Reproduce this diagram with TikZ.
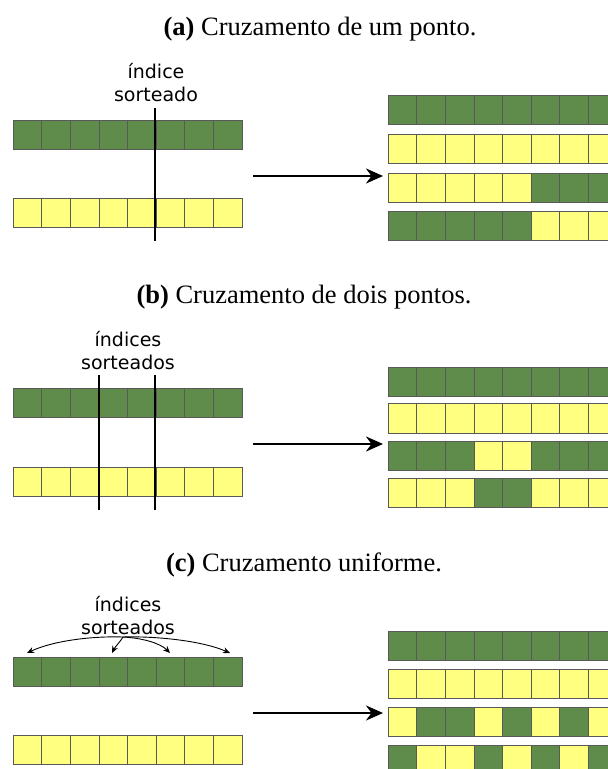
\documentclass[tikz,border=0pt]{standalone}
\usepackage{fontspec}
\setmainfont{Liberation Serif}
\newfontfamily\labfont{DejaVu Sans}
\usetikzlibrary{arrows.meta}
\definecolor{G}{HTML}{5F8C4B}
\definecolor{Y}{HTML}{FFFF80}
\newcommand{\chromrow}[3]{%
  \foreach \cc [count=\ii from 0] in {#3}
    {\filldraw[fill=\cc, draw=black!65, line width=0.6pt] ({#1+\ii*28.6},#2) rectangle ++(28.6,29.5);}
}
\tikzset{
  title/.style={font=\fontsize{26.5}{30}\selectfont, inner sep=0pt},
  lab/.style={font=\labfont\fontsize{19}{23}\selectfont, align=center, inner sep=0pt},
  cutline/.style={line width=2pt, black},
  bigarrow/.style={line width=2.5pt, -{Stealth[length=17pt,width=15pt]}},
  smallarrow/.style={line width=0.9pt, -{Stealth[length=7pt,width=6pt]}}
}
\begin{document}
\begin{tikzpicture}[x=1pt,y=-1pt]
\useasboundingbox (0,0) rectangle (608,769);
\clip (0,0) rectangle (608,769);
\fill[white] (0,0) rectangle (608,769);

% ---------- (a) ----------
\node[title] (ta) at (320,29) {\textbf{(a)} Cruzamento de um ponto.};
\node[lab] (la) at (156,83) {índice\\sorteado};
\chromrow{13}{120}{G,G,G,G,G,G,G,G}
\chromrow{13}{198}{Y,Y,Y,Y,Y,Y,Y,Y}
\coordinate (ca1) at (155,108);
\coordinate (ca2) at (155,241);
\draw[cutline] (ca1) -- (ca2);
\coordinate (aa1) at (253,176);
\coordinate (aa2) at (383,176);
\draw[bigarrow] (aa1) -- (aa2);
\chromrow{388}{95}{G,G,G,G,G,G,G,G}
\chromrow{388}{134}{Y,Y,Y,Y,Y,Y,Y,Y}
\chromrow{388}{173}{Y,Y,Y,Y,Y,G,G,G}
\chromrow{388}{211}{G,G,G,G,G,Y,Y,Y}

% ---------- (b) ----------
\node[title] (tb) at (304,297) {\textbf{(b)} Cruzamento de dois pontos.};
\node[lab] (lb) at (128,351) {índices\\sorteados};
\chromrow{13}{388}{G,G,G,G,G,G,G,G}
\chromrow{13}{467}{Y,Y,Y,Y,Y,Y,Y,Y}
\coordinate (cb1) at (99,375);
\coordinate (cb2) at (99,510);
\coordinate (cb3) at (155,375);
\coordinate (cb4) at (155,510);
\draw[cutline] (cb1) -- (cb2);
\draw[cutline] (cb3) -- (cb4);
\coordinate (ab1) at (253,444);
\coordinate (ab2) at (383,444);
\draw[bigarrow] (ab1) -- (ab2);
\chromrow{388}{367}{G,G,G,G,G,G,G,G}
\chromrow{388}{403.5}{Y,Y,Y,Y,Y,Y,Y,Y}
\chromrow{388}{441}{G,G,G,Y,Y,G,G,G}
\chromrow{388}{478}{Y,Y,Y,G,G,Y,Y,Y}

% ---------- (c) ----------
\node[title] (tc) at (304,565) {\textbf{(c)} Cruzamento uniforme.};
\node[lab] (lc) at (128,616) {índices\\sorteados};
\coordinate (o) at (123,637);
\coordinate (p1) at (27,653);
\coordinate (p2) at (112,653);
\coordinate (p3) at (170,653);
\coordinate (p4) at (230,653);
\draw[smallarrow] (o) .. controls (95,636) and (55,640) .. (p1);
\draw[smallarrow] (o) .. controls (120,642) and (115,647) .. (p2);
\draw[smallarrow] (o) .. controls (142,638) and (160,643) .. (p3);
\draw[smallarrow] (o) .. controls (152,636) and (200,640) .. (p4);
\chromrow{13}{657}{G,G,G,G,G,G,G,G}
\chromrow{13}{735}{Y,Y,Y,Y,Y,Y,Y,Y}
\coordinate (ac1) at (253,713);
\coordinate (ac2) at (383,713);
\draw[bigarrow] (ac1) -- (ac2);
\chromrow{388}{631}{G,G,G,G,G,G,G,G}
\chromrow{388}{669}{Y,Y,Y,Y,Y,Y,Y,Y}
\chromrow{388}{707}{Y,G,G,Y,G,Y,G,Y}
\chromrow{388}{745}{G,Y,Y,G,Y,G,Y,G}
\end{tikzpicture}
\end{document}
